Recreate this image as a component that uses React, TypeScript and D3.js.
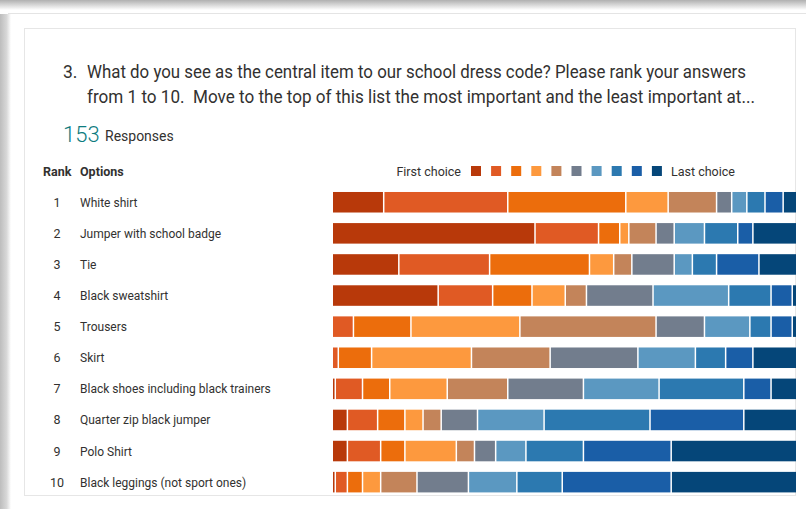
import React from "react";
import * as d3 from "d3";

const W = 806;
const H = 509;

const options = [
  "White shirt",
  "Jumper with school badge",
  "Tie",
  "Black sweatshirt",
  "Trousers",
  "Skirt",
  "Black shoes including black trainers",
  "Quarter zip black jumper",
  "Polo Shirt",
  "Black leggings (not sport ones)",
];
const ranks = ["1", "2", "3", "4", "5", "6", "7", "8", "9", "10"];

// counts for choice 1 (first) .. choice 10 (last), per option
const whiteShirt = [17, 41, 39, 14, 16, 5, 5, 6, 6, 4];
const jumperBadge = [67, 21, 7, 3, 9, 6, 10, 11, 5, 14];
const tie = [22, 30, 33, 8, 6, 14, 6, 8, 14, 12];
const blackSweatshirt = [35, 18, 13, 11, 7, 22, 25, 14, 7, 1];
const trousers = [0, 7, 19, 36, 45, 16, 15, 7, 7, 1];
const skirt = [0, 2, 11, 33, 26, 29, 19, 10, 9, 14];
const blackShoes = [1, 9, 9, 19, 20, 25, 25, 28, 9, 8];
const quarterZip = [5, 10, 9, 6, 6, 12, 22, 35, 31, 17];
const poloShirt = [5, 11, 8, 17, 6, 7, 10, 19, 29, 41];
const leggings = [1, 4, 5, 6, 12, 17, 16, 15, 36, 41];

const rows = [
  whiteShirt,
  jumperBadge,
  tie,
  blackSweatshirt,
  trousers,
  skirt,
  blackShoes,
  quarterZip,
  poloShirt,
  leggings,
];

const totalResponses = 153;

const choiceColors = [
  "#B8390A",
  "#E05A24",
  "#EC6D0C",
  "#FD993E",
  "#C3845A",
  "#727D8D",
  "#5B98C1",
  "#2C79B0",
  "#1A5EA7",
  "#054679",
];

const FONT = "Roboto, 'Open Sans', sans-serif";

export default function App() {
  const x = d3.scaleLinear().domain([0, totalResponses]).range([333, 796]);
  const y = d3
    .scaleBand<string>()
    .domain(options)
    .range([186.7, 497.7])
    .paddingInner(0.34)
    .paddingOuter(0.17);

  const stack = rows.map((vals) => {
    let acc = 0;
    return vals.map((v, i) => {
      const s = acc;
      acc += v;
      return { start: s, end: acc, v, i };
    });
  });

  const textColor = "#323130";

  return (
    <div style={{ position: "fixed", left: 0, top: 0 }}>
      <svg width={W} height={H} style={{ display: "block" }} fontFamily={FONT}>
        <defs>
          <linearGradient id="topShadow" x1="0" y1="0" x2="0" y2="1">
            <stop offset="0" stopColor="#b0b0b0" />
            <stop offset="1" stopColor="#ffffff" />
          </linearGradient>
          <linearGradient id="leftShadow" x1="0" y1="0" x2="1" y2="0">
            <stop offset="0" stopColor="#bdbdbd" />
            <stop offset="0.6" stopColor="#d8d8d8" />
            <stop offset="1" stopColor="#ffffff" />
          </linearGradient>
        </defs>
        <rect x={0} y={0} width={W} height={H} fill="#ffffff" />
        <rect x={0} y={0} width={W} height={10} fill="url(#topShadow)" />
        <rect x={0} y={14} width={11} height={H - 14} fill="url(#leftShadow)" />
        <line x1={8} x2={W} y1={13.5} y2={13.5} stroke="#e4e4e4" />
        <rect
          x={24.5}
          y={28.5}
          width={771}
          height={467}
          fill="#ffffff"
          stroke="#e6e6e6"
        />

        {/* Title */}
        <g fill={textColor} fontSize={17.5}>
          <text x={63} y={78}>3.</text>
          <text x={87} y={78} textLength={659} lengthAdjust="spacingAndGlyphs">
            What do you see as the central item to our school dress code? Please rank your answers
          </text>
          <text x={87} y={103} textLength={668} lengthAdjust="spacingAndGlyphs" style={{ whiteSpace: "pre" }}>
            {"from 1 to 10.  Move to the top of this list the most important and the least important at..."}
          </text>
        </g>

        {/* Responses */}
        <text x={63} y={142} fontSize={22} fontWeight={300} fill="#0E7C7F">
          {String(totalResponses)}
        </text>
        <text x={105} y={141} fontSize={14} fill={textColor}>
          Responses
        </text>

        {/* Header */}
        <text x={43} y={176} fontSize={12.5} fontWeight={700} fill={textColor}>
          Rank
        </text>
        <text x={80} y={176} fontSize={12.5} fontWeight={700} fill={textColor}>
          Options
        </text>

        {/* Legend */}
        <text x={461} y={176} fontSize={12.5} fill={textColor} textAnchor="end">
          First choice
        </text>
        {choiceColors.map((c, i) => (
          <rect key={i} x={471 + i * 20.1} y={166} width={10} height={10} fill={c} />
        ))}
        <text x={671} y={176} fontSize={12.5} fill={textColor}>
          Last choice
        </text>

        {/* Rows */}
        {options.map((opt, r) => {
          const yc = (y(opt) as number) + y.bandwidth() / 2;
          return (
            <g key={opt}>
              <text x={57} y={yc + 4.5} fontSize={12.5} fill={textColor} textAnchor="middle">
                {ranks[r]}
              </text>
              <text x={80} y={yc + 4.5} fontSize={12} fill={textColor}>
                {opt}
              </text>
              {stack[r]
                .filter((d) => d.v > 0)
                .map((d) => {
                  const x0 = x(d.start);
                  const x1 = x(d.end);
                  const isLast = d.end >= totalResponses;
                  return (
                    <rect
                      key={d.i}
                      x={x0}
                      y={y(opt)}
                      width={Math.max(0.5, x1 - x0 - (isLast ? 0 : 1.5))}
                      height={y.bandwidth()}
                      fill={choiceColors[d.i]}
                    />
                  );
                })}
            </g>
          );
        })}
      </svg>
    </div>
  );
}
